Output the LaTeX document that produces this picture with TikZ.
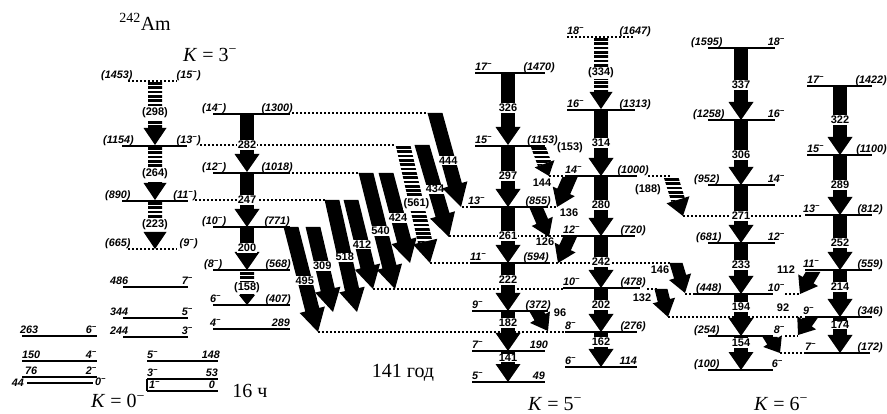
\documentclass[tikz,border=0pt]{standalone}
\usepackage{fontspec}
\setmainfont{Liberation Serif}
\newfontfamily\lab{Liberation Sans}
\newcommand\mi{\textsuperscript{−}}
\newcommand\calcarrow[7]{%
  \pgfmathsetmacro\dx{#3-#1}%
  \pgfmathsetmacro\dy{#4-#2}%
  \pgfmathsetmacro\len{veclen(\dx,\dy)}%
  \pgfmathsetmacro\ux{\dx/\len}%
  \pgfmathsetmacro\uy{\dy/\len}%
  \pgfmathsetmacro\hx{#3-#7*\ux}%
  \pgfmathsetmacro\hy{#4-#7*\uy}%
  \pgfmathsetmacro\tw{#5/\uy}%
  \pgfmathsetmacro\TLx{#1-\tw}%
  \pgfmathsetmacro\TRx{#1+\tw}%
  \pgfmathsetmacro\SLx{\hx-#5*\uy}%
  \pgfmathsetmacro\SLy{\hy+#5*\ux}%
  \pgfmathsetmacro\SRx{\hx+#5*\uy}%
  \pgfmathsetmacro\SRy{\hy-#5*\ux}%
  \pgfmathsetmacro\WLx{\hx-#6*\uy}%
  \pgfmathsetmacro\WLy{\hy+#6*\ux}%
  \pgfmathsetmacro\WRx{\hx+#6*\uy}%
  \pgfmathsetmacro\WRy{\hy-#6*\ux}%
}
\newcommand\blk[7]{\calcarrow{#1}{#2}{#3}{#4}{#5}{#6}{#7}%
  \fill (\TLx,#2) -- (\SLx,\SLy) -- (\WLx,\WLy) -- (#3,#4) -- (\WRx,\WRy) -- (\SRx,\SRy) -- (\TRx,#2) -- cycle;}
\newcommand\stripearrow[7]{\calcarrow{#1}{#2}{#3}{#4}{#5}{#6}{#7}%
  \begin{scope}
    \clip (\TLx,#2) -- (\SLx,\SLy) -- (\SRx,\SRy) -- (\TRx,#2) -- cycle;
    \pgfmathsetmacro\xa{min(#1,#3)-30}%
    \pgfmathsetmacro\xb{max(#1,#3)+30}%
    \pgfmathtruncatemacro\NN{(\hy-#2)/4.3}%
    \foreach \k in {0,...,\NN}{\fill (\xa,#2+1.2+\k*4.3) rectangle (\xb,#2+3.9+\k*4.3);}
  \end{scope}
  \fill (\WLx,\WLy) -- (#3,#4) -- (\WRx,\WRy) -- cycle;}
\newcommand\lev[9]{%
  \draw[#9] (#2,#4) -- (#3,#4);
  \node[ll,anchor=base west] (#1l) at (#5,#4-2.5) {#6};
  \node[ll,anchor=base east] (#1r) at (#7,#4-2.5) {#8};}
\newcommand\varr[6]{\blk{#1}{#2}{#1}{#3}{6.8}{12.5}{18}\node[tl] (#6) at (#1,#5) {#4};}
\newcommand\harr[6]{\stripearrow{#1}{#2}{#1}{#3}{7}{11.5}{17}\node[tl] (#6) at (#1,#5) {#4};}
\begin{document}
\begin{tikzpicture}[x=1pt,y=-1pt,
  lvl/.style={line width=1.5pt},
  dotl/.style={line width=1.4pt,dash pattern=on 1.5pt off 2.5pt},
  ll/.style={font=\lab\itshape\bfseries\fontsize{10.8}{12}\selectfont,inner sep=0pt},
  tl/.style={font=\lab\bfseries\fontsize{11}{12}\selectfont,fill=white,inner sep=0.7pt},
  sl/.style={font=\lab\bfseries\fontsize{11}{12}\selectfont,inner sep=0.5pt},
  big/.style={font=\fontsize{20}{22}\selectfont,inner sep=0pt}]
\fill[white] (0,0) rectangle (887,414);
\useasboundingbox (0,0) rectangle (887,414);

% ---- dotted level extensions ----
\draw[dotl] (292,113) -- (428,113);
\draw[dotl] (200,145) -- (396,145);
\draw[dotl] (292,173) -- (360,173);
\draw[dotl] (195,200) -- (325,200);
\draw[dotl] (462,207) -- (470,207);
\draw[dotl] (550,207) -- (557,207);
\draw[dotl] (449,236) -- (563,236);
\draw[dotl] (430,263) -- (470,263);
\draw[dotl] (548,263) -- (672,263);
\draw[dotl] (373,289) -- (563,289);
\draw[dotl] (647,289) -- (658,289);
\draw[dotl] (318,332) -- (565,332);
\draw[dotl] (549,176) -- (563,176);
\draw[dotl] (648,176) -- (671,176);
\draw[dotl] (683,216) -- (803,216);
\draw[dotl] (685,294) -- (695,294);
\draw[dotl] (785,294) -- (800,294);
\draw[dotl] (668,317) -- (803,317);
\draw[dotl] (785,336) -- (798,336);
\draw[dotl] (780,353) -- (805,353);

% ---- levels ----
\lev{a263}{22}{97}{336}{20}{263}{97}{6\mi}{lvl}
\lev{a150}{22}{97}{361}{22}{150}{97}{4\mi}{lvl}
\lev{a76}{22}{97}{377}{25}{76}{97}{2\mi}{lvl}
\draw[lvl] (27,383) -- (93,383);
\node[ll,anchor=east] (a44l) at (24,383) {44};
\node[ll,anchor=west] (a44r) at (95,382) {0\mi};
\lev{b486}{123}{188}{287}{110}{486}{193}{7\mi}{lvl}
\lev{b344}{123}{188}{318}{110}{344}{193}{5\mi}{lvl}
\lev{b244}{123}{188}{337}{110}{244}{193}{3\mi}{lvl}
\lev{c148}{147}{218}{361}{147}{5\mi}{220}{148}{lvl}
\lev{c53}{147}{218}{379}{147}{3\mi}{218}{53}{lvl}
\lev{c0}{147}{218}{391}{149}{1\mi}{215}{0}{lvl}
\draw[lvl] (147,379) -- (147,391);

\lev{d1453}{128}{177}{81}{101}{(1453)}{201}{(15\mi)}{dotl}
\lev{d1154}{122}{187}{146}{103}{(1154)}{201}{(13\mi)}{lvl}
\lev{d890}{122}{188}{201}{105}{(890)}{197}{(11\mi)}{lvl}
\lev{d665}{128}{177}{249}{105}{(665)}{198}{(9\mi)}{dotl}

\lev{e1300}{213}{290}{114}{202}{(14\mi)}{293}{(1300)}{lvl}
\lev{e1018}{213}{290}{173}{202}{(12\mi)}{293}{(1018)}{lvl}
\lev{e771}{213}{290}{227}{202}{(10\mi)}{290}{(771)}{lvl}
\lev{e568}{213}{290}{270}{204}{(8\mi)}{291}{(568)}{lvl}
\lev{e407}{213}{290}{305}{210}{6\mi}{291}{(407)}{lvl}
\lev{e289}{213}{290}{329}{210}{4\mi}{290}{289}{lvl}

\lev{f1470}{475}{545}{73}{475}{17\mi}{555}{(1470)}{lvl}
\lev{f1153}{475}{545}{146}{475}{15\mi}{558}{(1153)}{lvl}
\lev{f855}{470}{548}{207}{468}{13\mi}{551}{(855)}{lvl}
\lev{f594}{470}{548}{263}{470}{11\mi}{549}{(594)}{lvl}
\lev{f372}{472}{548}{311}{472}{9\mi}{551}{(372)}{lvl}
\lev{f190}{472}{545}{351}{472}{7\mi}{548}{190}{lvl}
\lev{f49}{472}{545}{382}{472}{5\mi}{545}{49}{lvl}

\lev{g1647}{567}{635}{37}{567}{18\mi}{651}{(1647)}{dotl}
\lev{g1313}{567}{635}{110}{567}{16\mi}{651}{(1313)}{lvl}
\lev{g1000}{565}{637}{176}{565}{14\mi}{649}{(1000)}{lvl}
\lev{g720}{563}{635}{236}{563}{12\mi}{646}{(720)}{lvl}
\lev{g478}{563}{640}{288}{563}{10\mi}{646}{(478)}{lvl}
\lev{g276}{565}{637}{332}{565}{8\mi}{646}{(276)}{lvl}
\lev{g114}{565}{637}{367}{565}{6\mi}{637}{114}{lvl}

\lev{h1595}{708}{775}{48}{691}{(1595)}{785}{18\mi}{lvl}
\lev{h1258}{708}{775}{120}{693}{(1258)}{785}{16\mi}{lvl}
\lev{h952}{708}{775}{185}{694}{(952)}{785}{14\mi}{lvl}
\lev{h681}{708}{775}{243}{696}{(681)}{785}{12\mi}{lvl}
\lev{h448}{695}{773}{294}{696}{(448)}{785}{10\mi}{lvl}
\lev{h254}{708}{773}{336}{694}{(254)}{785}{8\mi}{lvl}
\lev{h100}{708}{773}{370}{694}{(100)}{783}{6\mi}{lvl}

\lev{i1422}{807}{872}{86}{807}{17\mi}{887}{(1422)}{lvl}
\lev{i1100}{807}{872}{155}{807}{15\mi}{887}{(1100)}{lvl}
\lev{i812}{805}{872}{215}{803}{13\mi}{883}{(812)}{lvl}
\lev{i559}{805}{872}{270}{803}{11\mi}{883}{(559)}{lvl}
\lev{i346}{805}{872}{317}{803}{9\mi}{883}{(346)}{lvl}
\lev{i172}{805}{870}{353}{805}{7\mi}{883}{(172)}{lvl}

% ---- in-band transitions ----
\harr{155}{81}{145}{(298)}{113}{t298}
\harr{155}{146}{200}{(264)}{174}{t264}
\harr{155}{201}{249}{(223)}{225}{t223}
\varr{247}{114}{172}{282}{145}{t282}
\varr{247}{173}{227}{247}{200}{t247}
\varr{247}{227}{270}{200}{248}{t200}
\stripearrow{247}{271}{247}{305}{7}{8}{10}
\node[tl] (t158) at (247,288) {(158)};

\varr{508}{73}{145}{326}{108}{t326}
\varr{508}{146}{207}{297}{176}{t297}
\varr{508}{207}{263}{261}{236}{t261}
\varr{508}{263}{311}{222}{280}{t222}
\varr{508}{311}{351}{182}{323}{t182}
\varr{508}{351}{382}{141}{358}{t141}

\harr{601}{37}{109}{(334)}{73}{t334}
\varr{601}{110}{176}{314}{143}{t314}
\varr{601}{176}{236}{280}{205}{t280}
\varr{601}{236}{288}{242}{262}{t242}
\varr{601}{288}{332}{202}{305}{t202}
\varr{601}{332}{367}{162}{342}{t162}

\varr{741}{48}{120}{337}{85}{t337}
\varr{741}{120}{185}{306}{155}{t306}
\varr{741}{185}{243}{271}{216}{t271}
\varr{741}{243}{294}{233}{265}{t233}
\varr{741}{294}{336}{194}{307}{t194}
\varr{741}{336}{370}{154}{343}{t154}

\varr{840}{86}{155}{322}{120}{t322}
\varr{840}{155}{215}{289}{185}{t289}
\varr{840}{215}{270}{252}{243}{t252}
\varr{840}{270}{317}{214}{287}{t214}
\varr{840}{317}{353}{174}{325}{t174}

% ---- inter-band transitions (K=3 -> K=5) ----
\blk{291}{227}{318}{332}{7.2}{13}{23}
\path (291,227) -- (318,332) node[tl,pos=0.51] (x495) {495};
\blk{313}{227}{333}{312}{7.2}{13}{23}
\path (313,227) -- (333,312) node[tl,pos=0.46] (x309) {309};
\blk{332}{200}{357}{312}{7.2}{13}{23}
\path (332,200) -- (357,312) node[tl,pos=0.51] (x518) {518};
\blk{351}{200}{373}{289}{7.2}{13}{23}
\path (351,200) -- (373,289) node[tl,pos=0.5] (x412) {412};
\blk{366}{173}{395}{289}{7.2}{13}{23}
\path (366,173) -- (395,289) node[tl,pos=0.5] (x540) {540};
\blk{386}{173}{410}{263}{7.2}{13}{23}
\path (386,173) -- (410,263) node[tl,pos=0.5] (x424) {424};
\stripearrow{403}{145}{430}{263}{7.2}{12.5}{22}
\path (403,145) -- (430,263) node[tl,pos=0.5] (x561) {(561)};
\blk{422}{145}{449}{237}{7.2}{13}{23}
\path (422,145) -- (449,237) node[tl,pos=0.48] (x434) {434};
\blk{435}{113}{461}{207}{7.2}{13}{23}
\path (435,113) -- (461,207) node[tl,pos=0.51] (x444) {444};

% ---- side transitions ----
\stripearrow{538}{146}{549}{176}{7}{10.5}{13}
\node[sl] (s153) at (570,148) {(153)};
\blk{570}{177}{557}{207}{7}{12}{17}
\node[sl] (s144) at (542,183) {144};
\blk{536}{207}{549}{237}{6.3}{11.5}{17}
\node[sl] (s136) at (569,213) {136};
\blk{570}{237}{558}{263}{6.3}{11.5}{17}
\node[sl] (s126) at (545,242) {126};
\blk{537}{312}{548}{331}{6.3}{11.5}{16}
\node[sl] (s96) at (560,313) {96};
\stripearrow{671}{177}{683}{216}{7}{12}{17}
\node[sl] (s188) at (648,190) {(188)};
\blk{676}{263}{685}{293}{6.3}{11.5}{17}
\node[sl] (s146) at (660,270) {146};
\blk{661}{289}{668}{317}{6.3}{11.5}{17}
\node[sl] (s132) at (642,298) {132};
\blk{813}{272}{800}{294}{6.3}{11.5}{16}
\node[sl] (s112) at (786,270) {112};
\blk{810}{318}{798}{335}{6.3}{11.5}{15}
\node[sl] (s92) at (783,308) {92};
\blk{770}{337}{780}{353}{6.3}{11}{14}

% ---- large labels ----
\node[big] (am) at (145,22) {\textsuperscript{242}Am};
\node[big] (k3) at (210,55) {\textit{K} = 3\textsuperscript{−}};
\node[big] (k0) at (118,401) {\textit{K} = 0\textsuperscript{−}};
\node[big] (h16) at (250,391) {16 ч};
\node[big] (y141) at (403,373) {141 год};
\node[big] (k5) at (555,404) {\textit{K} = 5\textsuperscript{−}};
\node[big] (k6) at (781,404) {\textit{K} = 6\textsuperscript{−}};
\end{tikzpicture}
\end{document}
